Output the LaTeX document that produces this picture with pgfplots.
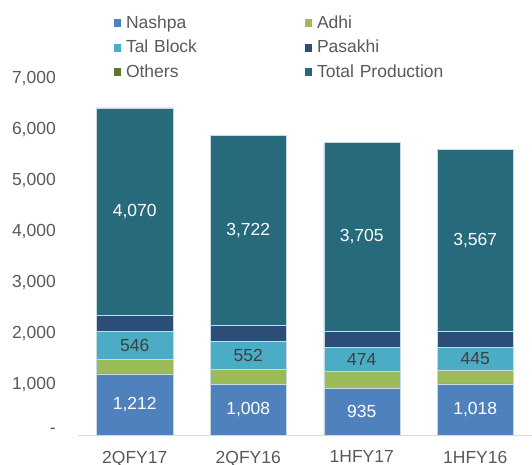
\documentclass[border=0pt]{standalone}
\usepackage{fontspec}
\setmainfont{Liberation Sans}
\usepackage{pgfplots}
\pgfplotsset{compat=1.18}
\usepackage{pgfplotstable}

\definecolor{nashpa}{HTML}{4F81BD}
\definecolor{adhi}{HTML}{9BBB59}
\definecolor{talblock}{HTML}{4BACC6}
\definecolor{pasakhi}{HTML}{2C4D75}
\definecolor{others}{HTML}{5F7530}
\definecolor{totalprod}{HTML}{276A7C}
\definecolor{txtgray}{HTML}{595959}
\definecolor{lblgray}{HTML}{404040}
\definecolor{edge}{HTML}{C9D9E2}

% production by field, one row per period
\pgfplotstableread{
x nashpa adhi tal pasakhi others total
0 1212 286 546 314 0 4070
1 1008 296 552 314 0 3722
2 935  324 474 314 0 3705
3 1018 270 445 314 0 3567
}\prodtable

\begin{document}
\begin{tikzpicture}
\path[use as bounding box] (-78pt,-28.3pt) rectangle (454pt,435.7pt);
\begin{axis}[
    at={(0,0)}, anchor=south west,
    scale only axis,
    width=454pt, height=357pt,
    ybar stacked,
    bar width=76pt,
    xmin=-0.5, xmax=3.5,
    ymin=0, ymax=7000,
    xtick={0,1,2,3},
    xticklabels={2QFY17,2QFY16,1HFY17,1HFY16},
    ytick={0,1000,...,7000},
    yticklabels={{\raisebox{10pt}{-}\hspace{10pt}},{1,000},{2,000},{3,000},{4,000},{5,000},{6,000},{7,000}},
    major tick length=0pt,
    axis x line*=bottom, axis y line*=left,
    y axis line style={draw=none},
    x axis line style={draw=black!15, line width=1pt, -},
    tick label style={font=\fontsize{17.5}{20}\selectfont, text=txtgray, inner sep=0pt},
    yticklabel style={anchor=east, xshift=-22pt},
    xticklabel style={anchor=north, yshift=-15pt},
    /pgf/number format/assume math mode=true,
    /pgf/number format/1000 sep={,},
    every axis plot/.append style={draw=edge, line width=0.5pt},
    legend columns=2,
    legend style={
        at={(0.0793,1.1765)}, anchor=north west,
        draw=none, fill=none, inner sep=0pt, outer sep=0pt,
        row sep=8.4pt,
        font=\fontsize{17.5}{20}\selectfont, text=txtgray,
        nodes={inner sep=0pt, text height=12.6pt, text depth=3.5pt, text width=170pt, align=left},
        cells={anchor=west},
        /tikz/every odd column/.append style={column sep=5pt},
        /tikz/every even column/.append style={column sep=9pt},
    },
    legend image code/.code={\fill[#1, draw=none] (0pt,-3.5pt) rectangle (7pt,4.5pt);},
    nodes near coords style={font=\fontsize{17.5}{20}\selectfont},
]
\addplot[fill=nashpa, nodes near coords, nodes near coords style={text=white}] table[x=x, y=nashpa] {\prodtable};
\addlegendentry{Nashpa}
\addplot[fill=adhi] table[x=x, y=adhi] {\prodtable};
\addlegendentry{Adhi}
\addplot[fill=talblock, nodes near coords, nodes near coords style={text=lblgray}] table[x=x, y=tal] {\prodtable};
\addlegendentry{Tal Block}
\addplot[fill=pasakhi] table[x=x, y=pasakhi] {\prodtable};
\addlegendentry{Pasakhi}
\addplot[fill=others, draw=none] table[x=x, y=others] {\prodtable};
\addlegendentry{Others}
\addplot[fill=totalprod, nodes near coords, nodes near coords style={text=white}] table[x=x, y=total] {\prodtable};
\addlegendentry{Total Production}
\end{axis}
\end{tikzpicture}
\end{document}
